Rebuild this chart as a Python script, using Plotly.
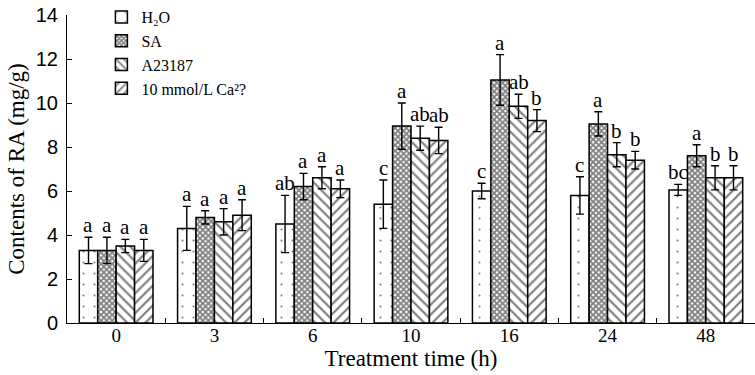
import plotly.graph_objects as go

# Treatment time points (h)
times = ["0", "3", "6", "10", "16", "24", "48"]

# RA content (mg/g), mean and SD per treatment
h2o_mean = [3.3, 4.3, 4.5, 5.4, 6.0, 5.8, 6.05]
h2o_sd = [0.6, 1.0, 1.3, 1.1, 0.35, 0.85, 0.25]
sa_mean = [3.3, 4.8, 6.2, 8.95, 11.05, 9.05, 7.6]
sa_sd = [0.6, 0.3, 0.6, 1.05, 1.15, 0.55, 0.5]
a23187_mean = [3.5, 4.6, 6.6, 8.4, 9.85, 7.65, 6.6]
a23187_sd = [0.3, 0.6, 0.5, 0.55, 0.55, 0.55, 0.55]
ca_mean = [3.3, 4.9, 6.1, 8.3, 9.2, 7.4, 6.6]
ca_sd = [0.5, 0.7, 0.4, 0.6, 0.5, 0.4, 0.55]

# Significance letters
h2o_sig = ["a", "a", "ab", "c", "c", "c", "bc"]
sa_sig = ["a", "a", "a", "a", "a", "a", "a"]
a23187_sig = ["a", "a", "a", "ab", "ab", "b", "b"]
ca_sig = ["a", "a", "a", "ab", "b", "b", "b"]

names = ["H\u2082O", "SA", "A23187", "10 mmol/L Ca\u00b2?"]
means = [h2o_mean, sa_mean, a23187_mean, ca_mean]
sds = [h2o_sd, sa_sd, a23187_sd, ca_sd]
sigs = [h2o_sig, sa_sig, a23187_sig, ca_sig]

patterns = [
    dict(shape=".", size=11, solidity=0.03, fgcolor="black", bgcolor="white"),
    dict(shape="x", size=4, solidity=0.7, fgcolor="black", bgcolor="white"),
    dict(shape="\\", size=7, solidity=0.32, fgcolor="black", bgcolor="white"),
    dict(shape="/", size=7, solidity=0.32, fgcolor="black", bgcolor="white"),
]

W, H = 755, 375
ML, MR, MT, MB = 67, 0, 14, 52
BARGAP = 0.25

serif = "Liberation Serif, Times New Roman, serif"
sans = "Liberation Sans, Arial, sans-serif"

fig = go.Figure()
for name, m, s, pat in zip(names, means, sds, patterns):
    fig.add_trace(go.Bar(
        x=times, y=m, name=name,
        marker=dict(color="white", line=dict(color="black", width=1.5), pattern=pat),
        error_y=dict(type="data", array=s, visible=True, color="black", thickness=1.4, width=4),
    ))

# letters above error bars, shifted to each bar's centre
plot_w = W - ML - MR
cat_w = plot_w / len(times)
bar_w = cat_w * (1 - BARGAP) / len(names)
for k, (m, s, sig) in enumerate(zip(means, sds, sigs)):
    shift = (k - (len(names) - 1) / 2) * bar_w
    for i, (mv, sv, lab) in enumerate(zip(m, s, sig)):
        fig.add_annotation(
            x=i, y=mv + sv, text=lab, showarrow=False, xshift=shift,
            yanchor="bottom", yshift=-2,
            font=dict(family=serif, size=21, color="black"),
        )

fig.update_layout(
    width=W, height=H,
    margin=dict(l=ML, r=MR, t=MT, b=MB),
    paper_bgcolor="white", plot_bgcolor="white",
    barmode="group", bargap=BARGAP, bargroupgap=0,
    showlegend=True,
    legend=dict(
        x=0.05, y=1.05, xanchor="left", yanchor="top",
        font=dict(family=serif, size=16, color="black"),
        bgcolor="rgba(0,0,0,0)", tracegroupgap=0, itemwidth=30,
    ),
    xaxis=dict(
        type="category", categoryorder="array", categoryarray=times,
        showline=True, linecolor="black", linewidth=1,
        ticks="inside", tickson="boundaries", ticklen=5, tickcolor="black",
        ticklabelstandoff=-5,
        tickfont=dict(family=serif, size=19, color="black"),
        title=dict(text="Treatment time (h)", font=dict(family=serif, size=23, color="black"), standoff=0),
        showgrid=False,
    ),
    yaxis=dict(
        range=[0, 14], dtick=2, showline=True, linecolor="black", linewidth=1,
        ticks="inside", ticklen=5, tickcolor="black", ticklabelstandoff=4,
        tickfont=dict(family=sans, size=20, color="black"),
        title=dict(text="Contents of RA (mg/g)", font=dict(family=serif, size=23, color="black"), standoff=4),
        showgrid=False, zeroline=False,
    ),
)

fig.write_html("out.html")
